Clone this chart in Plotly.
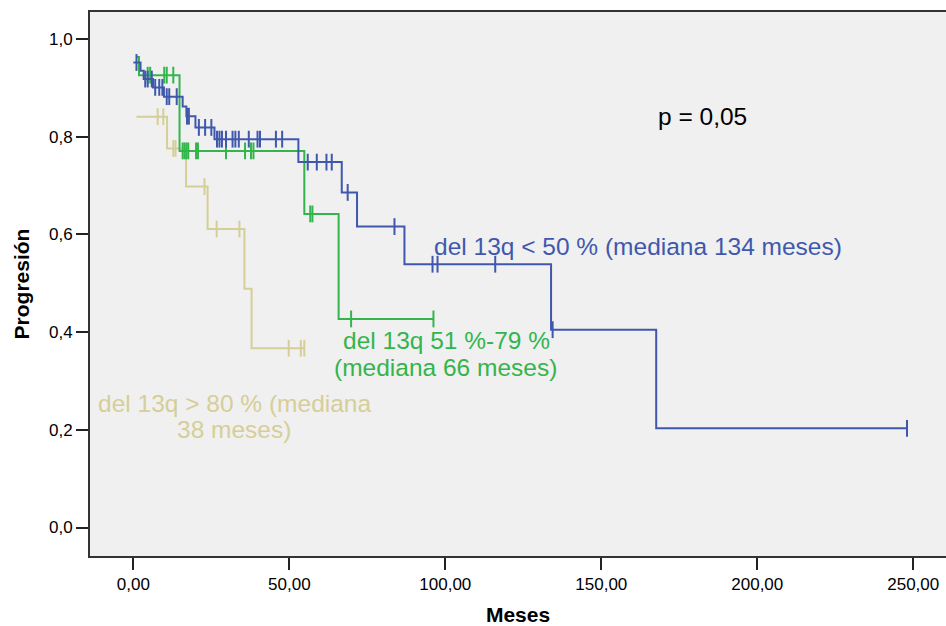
import numpy as np
import plotly.graph_objects as go

# Kaplan-Meier step data: start time of each step and the survival level held from it
blue_t = [0.0, 2.3, 3.3, 6.3, 9.8, 15.8, 17.0, 19.9, 26.0, 52.9, 66.8, 71.7, 86.9, 133.9, 167.6]
blue_s = [0.952, 0.935, 0.918, 0.901, 0.882, 0.862, 0.842, 0.819, 0.795, 0.748, 0.686, 0.616, 0.539, 0.405, 0.203]
blue_end = 248.0
blue_cens = [1.0, 3.8, 4.6, 5.9, 7.0, 8.3, 9.3, 10.7, 11.5, 13.9, 17.2, 17.8, 21.0, 23.0, 25.0,
             26.8, 27.6, 28.4, 29.7, 31.8, 32.7, 33.8, 37.0, 39.8, 40.6, 45.7, 47.7,
             55.9, 58.8, 61.9, 63.6, 68.7, 83.7, 95.9, 97.5, 116.0, 134.4, 248.0]

green_t = [1.0, 1.8, 14.8, 54.8, 65.8]
green_s = [0.963, 0.926, 0.771, 0.642, 0.427]
green_end = 96.2
green_cens = [4.6, 5.4, 9.9, 10.7, 12.8, 15.8, 16.4, 17.0, 17.6, 20.1, 20.7, 29.7,
              35.8, 37.7, 38.5, 56.7, 57.4, 69.8, 96.2]

tan_t = [1.0, 10.8, 16.9, 23.8, 35.6, 37.9]
tan_s = [0.841, 0.776, 0.698, 0.611, 0.489, 0.367]
tan_end = 55.0
tan_cens = [7.8, 9.6, 12.8, 13.5, 22.8, 26.7, 34.0, 49.8, 53.7, 54.8]

x_ticks = [0, 50, 100, 150, 200, 250]
x_tick_text = ["0,00", "50,00", "100,00", "150,00", "200,00", "250,00"]
y_ticks = [0.0, 0.2, 0.4, 0.6, 0.8, 1.0]
y_tick_text = ["0,0", "0,2", "0,4", "0,6", "0,8", "1,0"]

BLUE = "#3f58ad"
GREEN = "#33b54c"
TAN = "#d6ce98"


def level_at(times, levels, t):
    idx = np.searchsorted(np.asarray(times), np.asarray(t), side="right") - 1
    idx = np.clip(idx, 0, len(levels) - 1)
    return np.asarray(levels)[idx]


fig = go.Figure()
# draw tan first, then green, then blue on top
for times, levels, end, cens, color in [
    (tan_t, tan_s, tan_end, tan_cens, TAN),
    (green_t, green_s, green_end, green_cens, GREEN),
    (blue_t, blue_s, blue_end, blue_cens, BLUE),
]:
    fig.add_trace(go.Scatter(
        x=list(times) + [end], y=list(levels) + [levels[-1]],
        mode="lines", line=dict(color=color, width=2, shape="hv"),
        showlegend=False, hoverinfo="skip"))
    fig.add_trace(go.Scatter(
        x=cens, y=level_at(times, levels, cens),
        mode="markers",
        marker=dict(symbol="line-ns", size=12, line=dict(color=color, width=2)),
        showlegend=False, hoverinfo="skip"))

ann_font = "Liberation Sans, Arial, sans-serif"
ANN_SIZE = 24.5


def label(x, y, text, color, anchor="center"):
    fig.add_annotation(x=x, y=y, text=text, showarrow=False,
                       font=dict(family=ann_font, size=ANN_SIZE, color=color),
                       xanchor=anchor, yanchor="middle")


label(182.3, 0.842, "p = 0,05", "#000000")
label(95.7, 0.576, "del 13q < 50 % (mediana 134 meses)", BLUE, anchor="left")
label(100.3, 0.382, "del 13q 51 %-79 %", GREEN)
label(100.0, 0.327, "(mediana 66 meses)", GREEN)
label(32.4, 0.253, "del 13q > 80 % (mediana", TAN)
label(32.2, 0.200, "38 meses)", TAN)

axis_font = dict(family=ann_font, size=17, color="#000000")
fig.update_xaxes(
    range=[-13.9, 260.5], tickvals=x_ticks, ticktext=x_tick_text,
    ticks="outside", ticklen=12, tickwidth=2, tickcolor="#222222",
    showline=True, linecolor="#333333", linewidth=2, mirror=True,
    showgrid=False, zeroline=False, tickfont=axis_font,
    title=dict(text="<b>Meses</b>", font=dict(family=ann_font, size=21, color="#000000"), standoff=16),
)
fig.update_yaxes(
    range=[-0.0583, 1.0553], tickvals=y_ticks, ticktext=y_tick_text,
    ticks="outside", ticklen=12, tickwidth=2, tickcolor="#222222",
    showline=True, linecolor="#333333", linewidth=2,
    showgrid=False, zeroline=False, tickfont=axis_font,
    title=dict(text="<b>Progresión</b>", font=dict(family=ann_font, size=21, color="#000000"), standoff=14),
)
fig.update_layout(
    width=946, height=626,
    margin=dict(l=90, r=0, t=12, b=70),
    plot_bgcolor="#f0f0f0", paper_bgcolor="#ffffff",
)

fig.write_html("out.html")
